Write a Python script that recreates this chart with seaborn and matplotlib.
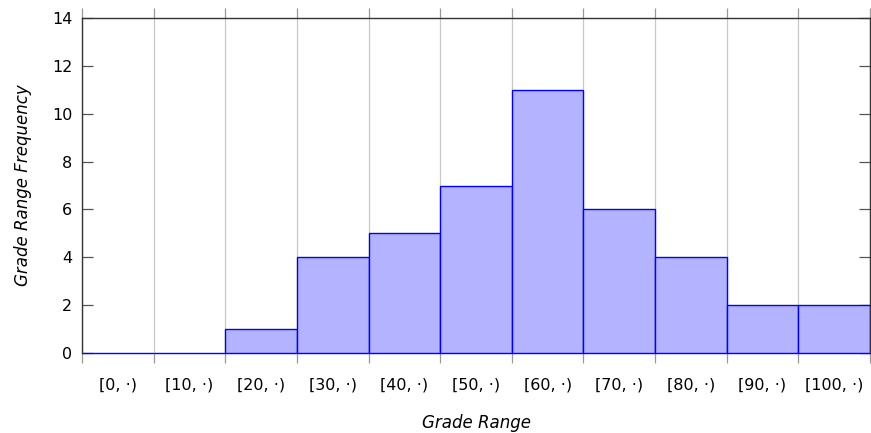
import seaborn as sns
import matplotlib.pyplot as plt
import numpy as np
import pandas as pd

# histogram of grades, one bar per 10-point range
ranges = ["[0, ·)", "[10, ·)", "[20, ·)", "[30, ·)", "[40, ·)", "[50, ·)",
          "[60, ·)", "[70, ·)", "[80, ·)", "[90, ·)", "[100, ·)"]
counts = [0, 0, 1, 4, 5, 7, 11, 6, 4, 2, 2]
y_ticks = [0, 2, 4, 6, 8, 10, 12, 14]

df = pd.DataFrame({"Range": ranges, "Count": counts})

sns.set_style("white")
plt.rcParams["font.family"] = ["DejaVu Sans"]
plt.rcParams["text.color"] = "black"
plt.rcParams["axes.labelcolor"] = "black"

fig = plt.figure(figsize=(8.71, 4.33), dpi=100)
ax = fig.add_axes([82 / 871, 1 - 353 / 433, 788 / 871, 335 / 433])

sns.barplot(x="Range", y="Count", data=df, color="#b3b3ff", saturation=1,
            width=1, edgecolor="blue", linewidth=1, ax=ax)
# keep the flat line of the empty bars fully visible
for p in ax.patches:
    p.set_clip_on(False)

ax.set_xlim(-0.5, len(ranges) - 0.5)
ax.set_ylim(0, 14)
ax.set_yticks(y_ticks)

# bar edges get grid lines and outward gray ticks, labels sit at centres
edges = np.arange(len(ranges) + 1) - 0.5
ax.set_xticks(edges, minor=True)
ax.grid(which="minor", axis="x", color="#c8c8c8", linewidth=0.9)
ax.set_axisbelow(True)
ax.tick_params(axis="x", which="major", length=0, pad=18, labelsize=11.5,
               labelcolor="black")
ax.tick_params(axis="x", which="minor", direction="out", length=7.5,
               color="#999999", width=0.9, top=True, bottom=True)
ax.tick_params(axis="y", which="major", direction="in", length=8,
               color="#555555", width=0.9, left=True, right=True,
               pad=7, labelsize=11.5, labelcolor="black")

for side in ["left", "right", "top"]:
    ax.spines[side].set_color("#333333")
    ax.spines[side].set_linewidth(1)
ax.spines["bottom"].set_visible(False)

ax.set_xlabel("Grade Range", fontsize=12, style="italic", labelpad=15,
              color="black")
ax.set_ylabel("Grade Range Frequency", fontsize=12, style="italic",
              labelpad=14, color="black")

plt.savefig("out.png", dpi=100)
